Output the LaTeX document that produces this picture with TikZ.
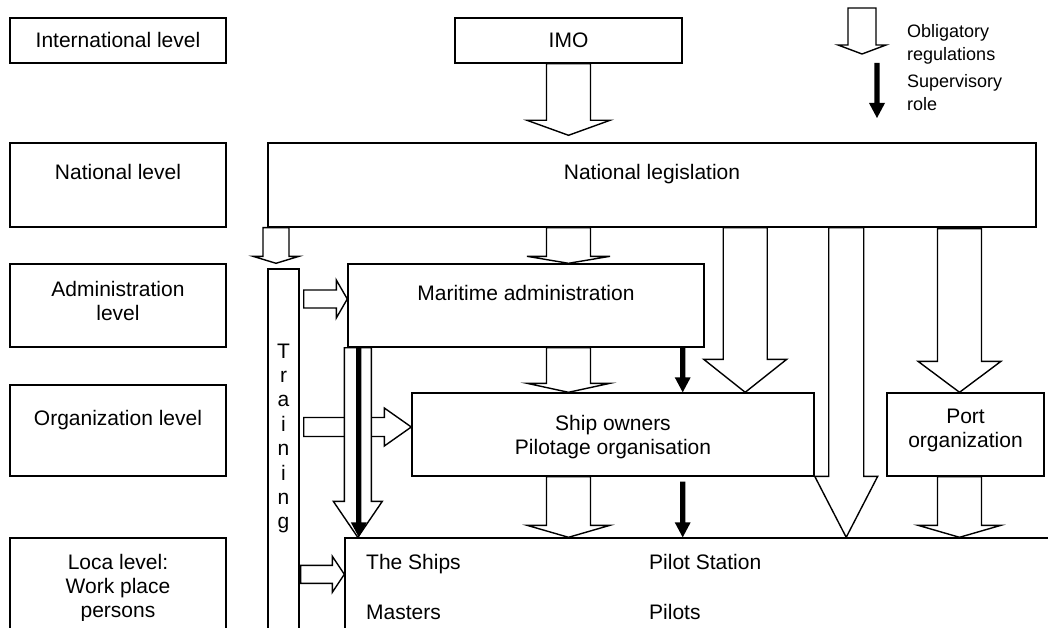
\documentclass[tikz,border=0pt]{standalone}
\usepackage{fontspec}
\setmainfont{Liberation Sans}
\usetikzlibrary{calc}

% stacked lines with the first baseline as the node baseline
\newcommand\clines[1]{\begin{tabular}[t]{@{}c@{}}#1\end{tabular}}
\newcommand\llines[1]{\begin{tabular}[t]{@{}l@{}}#1\end{tabular}}

% hollow block arrow pointing down: start, tip, shaft half width, head half width, head length
\newcommand\hollowdown[5]{%
  \draw[hollow] let \p1=#1, \p2=#2 in
    (\x2-#3pt,\y1) -- (\x2-#3pt,\y2+#5pt) -- (\x2-#4pt,\y2+#5pt) -- (\x2,\y2)
    -- (\x2+#4pt,\y2+#5pt) -- (\x2+#3pt,\y2+#5pt) -- (\x2+#3pt,\y1) -- cycle;}
% hollow block arrow pointing right
\newcommand\hollowright[5]{%
  \draw[hollow] let \p1=#1, \p2=#2 in
    (\x1,\y2+#3pt) -- (\x2-#5pt,\y2+#3pt) -- (\x2-#5pt,\y2+#4pt) -- (\x2,\y2)
    -- (\x2-#5pt,\y2-#4pt) -- (\x2-#5pt,\y2-#3pt) -- (\x1,\y2-#3pt) -- cycle;}
% solid supervisory arrow pointing down
\newcommand\supdown[2]{%
  \fill[supv] let \p1=#1, \p2=#2 in
    (\x2-2.6pt,\y1) -- (\x2-2.6pt,\y2+15pt) -- (\x2-8pt,\y2+15pt) -- (\x2,\y2)
    -- (\x2+8pt,\y2+15pt) -- (\x2+2.6pt,\y2+15pt) -- (\x2+2.6pt,\y1) -- cycle;}

\begin{document}
\begin{tikzpicture}[x=1pt,y=-1pt,
  box/.style={draw, line width=1.4pt, fill=white, inner sep=0pt},
  hollow/.style={draw, line width=1.4pt, fill=white, line join=miter},
  supv/.style={fill=black},
  txt/.style={inner sep=0pt, anchor=base, font=\fontsize{21}{24}\selectfont},
  ltxt/.style={txt, anchor=base west},
  legend/.style={inner sep=0pt, anchor=base west, font=\fontsize{18}{22.5}\selectfont}]

\useasboundingbox (0,0) rectangle (1048,628);
\clip (0,0) rectangle (1048,628);
\fill[white] (0,0) rectangle (1048,628);

% level column
\node[box, minimum width=216pt, minimum height=45pt] (intl) at (118,40.5) {};
\node[box, minimum width=216pt, minimum height=84pt] (nat)  at (118,185) {};
\node[box, minimum width=216pt, minimum height=83pt] (adm)  at (118,305.5) {};
\node[box, minimum width=216pt, minimum height=91pt] (org)  at (118,430.5) {};
\node[box, minimum width=216pt, minimum height=162pt] (loc) at (118,619) {};

% bodies
\node[box, minimum width=227pt, minimum height=45pt] (imo)    at (568.5,40.5) {};
\node[box, minimum width=768pt, minimum height=84pt] (natleg) at (652,185) {};
\node[box, minimum width=31pt,  minimum height=431pt] (train) at (283.5,484.5) {};
\node[box, minimum width=356pt, minimum height=83pt] (mar)    at (526,305.5) {};
\node[box, minimum width=402pt, minimum height=83pt] (ship)   at (613,434.5) {};
\node[box, minimum width=157pt, minimum height=83pt] (port)   at (965.5,434.5) {};
\node[box, minimum width=755pt, minimum height=162pt] (local) at (722.5,619) {};

% reference points for the arrows
\coordinate (tr)   at ($(train.north)+(-7.5,-5)$);
\coordinate (mid)  at (imo.south);
\coordinate (sw)   at ($(ship.north east)+(-69.5,0)$);
\coordinate (lng)  at ($(ship.east|-local.north)+(31.5,0)$);
\coordinate (pt)   at ($(port.north)+(-6,0)$);
\coordinate (big)  at ($(mar.south west)+(10.5,0)$);
\coordinate (sup)  at ($(mar.south east)+(-22,0)$);
\coordinate (h1)   at ($(train.east|-mar.west)+(4,-6.5)$);
\coordinate (h2)   at ($(train.east|-ship.west)+(4,-7.5)$);
\coordinate (h3)   at ($(train.east|-local.north)+(1,37)$);
\coordinate (lgA)  at (862,8);
\coordinate (lgB)  at (862,54);
\coordinate (lsA)  at (877,63);
\coordinate (lsB)  at (877,118);

% training to the bodies
\hollowright{(h1)}{(h1-|mar.west)}{9}{19}{11}
\hollowright{(h2)}{(h2-|ship.west)}{9.5}{19}{27}
\hollowright{(h3)}{(h3-|local.west)}{9}{18}{12}

% obligatory regulations
\hollowdown{(imo.south)}{($(mid|-natleg.north)+(0,-7)$)}{22}{41.5}{15}
\hollowdown{(tr|-natleg.south)}{(tr)}{13}{23}{7}
\hollowdown{(mid|-natleg.south)}{(mid|-mar.north)}{22}{41.5}{7}
\hollowdown{(mid|-mar.south)}{(mid|-ship.north)}{22}{41.5}{9}
\hollowdown{(mid|-ship.south)}{(mid|-local.north)}{22}{41.5}{12}
\hollowdown{(sw|-natleg.south)}{(sw)}{22}{41.5}{33}
\hollowdown{(lng|-natleg.south)}{(lng)}{17.5}{31.5}{61}
\hollowdown{($(pt|-natleg.south)+(0,1)$)}{(pt)}{22}{41.5}{31}
\hollowdown{(pt|-port.south)}{(pt|-local.north)}{22}{41.5}{12}
\hollowdown{(big)}{(big|-local.north)}{13.5}{24.5}{36}
\hollowdown{(lgA)}{(lgB)}{14}{24}{9}

% supervisory role
\supdown{(sup)}{(sup|-ship.north)}
\supdown{($(sup|-ship.south)+(0,5)$)}{(sup|-local.north)}
\supdown{($(big)+(1,0)$)}{($(big|-local.north)+(1,0)$)}
\supdown{(lsA)}{(lsB)}

% texts (the text frames end a little above the lower edge)
\begin{scope}
\clip (0,0) rectangle (1048,620);
\node[txt] (intl-t) at (118,48)  {International level};
\node[txt] (nat-t)  at (118,180) {National level};
\node[txt] (adm-t)  at (118,296) {\clines{Administration\\level}};
\node[txt] (org-t)  at (118,425) {Organization level};
\node[txt] (loc-t)  at (118,569) {\clines{Loca level:\\Work place\\persons}};

\node[txt] (imo-t)    at (568.5,48) {IMO};
\node[txt] (natleg-t) at (652,180)  {National legislation};
\node[txt] (mar-t)    at (526,300)  {Maritime administration};
\node[txt] (ship-t)   at (613,430)  {\clines{Ship owners\\Pilotage organisation}};
\node[txt] (port-t)   at (965.5,423) {\clines{Port\\organization}};
\node[txt, font=\fontsize{21}{24.4}\selectfont] (train-t) at (283.5,358)
  {\clines{T\\r\\a\\i\\n\\i\\n\\g}};

\node[ltxt] (ships-t)  at (366,569) {The Ships};
\node[ltxt] (mast-t)   at (366,619) {Masters};
\node[ltxt] (pstat-t)  at (649,569) {Pilot Station};
\node[ltxt] (pilots-t) at (649,619) {Pilots};

\node[legend] (obl-t) at (907,38) {\llines{Obligatory\\regulations}};
\node[legend] (sup-t) at (907,88) {\llines{Supervisory\\role}};
\end{scope}
\end{tikzpicture}
\end{document}
